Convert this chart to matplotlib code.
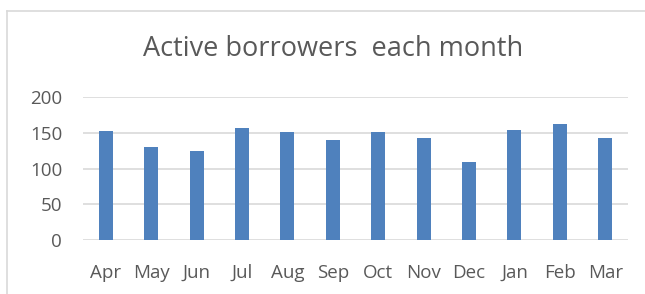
import matplotlib.pyplot as plt
from matplotlib.lines import Line2D

months = ["Apr", "May", "Jun", "Jul", "Aug", "Sep", "Oct", "Nov", "Dec", "Jan", "Feb", "Mar"]
borrowers = [153, 130, 125, 156, 151, 140, 151, 143, 109, 154, 162, 143]
yticks = [0, 50, 100, 150, 200]

W, H = 645, 294
fig = plt.figure(figsize=(W / 100, H / 100), dpi=100)
plt.rcParams['font.family'] = ['Open Sans', 'DejaVu Sans']

# chart frame (left and top edges visible, rest cut off)
fig.add_artist(Line2D([7 / W, 7 / W], [0, 1 - 11 / H], color="#d9d9d9", lw=1.2))
fig.add_artist(Line2D([7 / W, 1], [1 - 11 / H, 1 - 11 / H], color="#d9d9d9", lw=1.2))

ax = fig.add_axes([83 / W, 1 - 240 / H, (628 - 83) / W, (240 - 97) / H])
x = range(len(months))
ax.bar(x, borrowers, width=0.31, color="#4f81bd", zorder=3)
ax.set_ylim(0, 200)
ax.set_xlim(-0.5, len(months) - 0.5)
ax.set_yticks(yticks)
ax.set_xticks(list(x))
ax.set_xticklabels(months)
ax.grid(axis="y", color="#d9d9d9", lw=1.2, zorder=0)
for s in ax.spines.values():
    s.set_visible(False)
ax.tick_params(length=0, colors="#595959", labelsize=13.5)
ax.tick_params(axis="x", pad=17)
ax.tick_params(axis="y", pad=15)

fig.text(333 / W, 1 - 49 / H, "Active borrowers  each month",
         ha="center", va="center", fontsize=19.5, color="#595959")

fig.savefig("out.png", dpi=100)
